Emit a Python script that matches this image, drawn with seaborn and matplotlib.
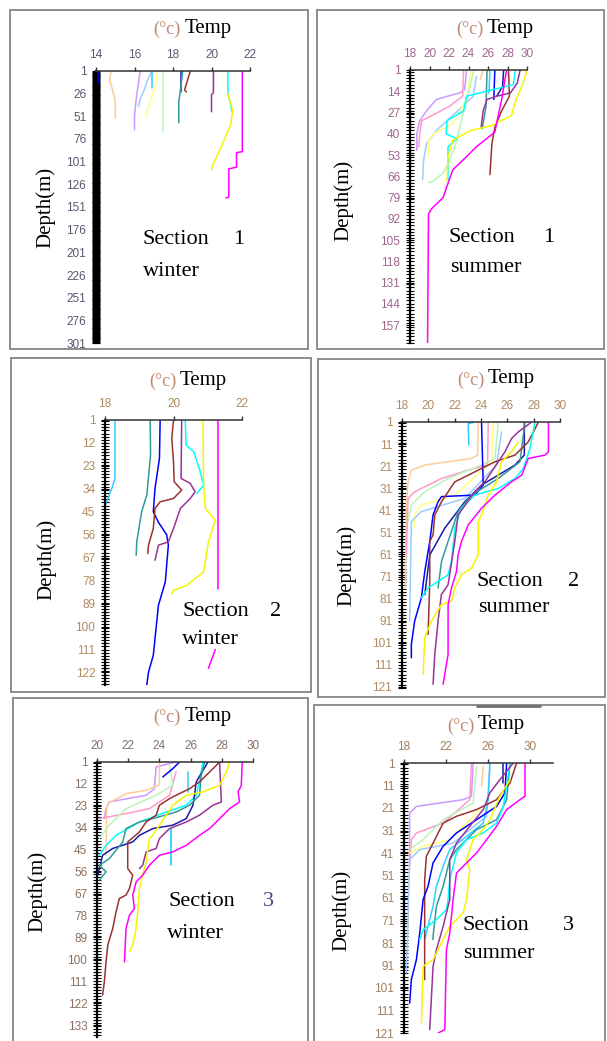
import matplotlib
matplotlib.use("Agg")
import matplotlib.pyplot as plt
from matplotlib.patches import Rectangle
from matplotlib.lines import Line2D
from matplotlib.ticker import MultipleLocator
import pandas as pd
import seaborn as sns

# station colours (excel style palette)
station_colors = {
    "S01": "#0000ff", "S02": "#ffcc99", "S03": "#cc99ff", "S04": "#99ccff",
    "S05": "#33ccff", "S06": "#ffff80", "S07": "#b9f5b9", "S08": "#1a1aa6",
    "S09": "#339999", "S10": "#993333", "S11": "#993399", "S12": "#00ffff",
    "S13": "#f5f500", "S14": "#ff00ff", "S15": "#ff99cc", "S16": "#ff00ff",
    "S17": "#00ccff",
}

# ---------------- Section 1 winter ----------------
s1w_xticks = [14, 16, 18, 20, 22]
s1w_yticks = [1, 26, 51, 76, 101, 126, 151, 176, 201, 226, 251, 276, 301]
s1w_temp = {
    "S01": [14.1, 14.1],
    "S02": [14.8, 14.7, 14.9, 15.0, 15.0],
    "S03": [16.3, 16.2, 16.1, 16.0, 16.0],
    "S04": [16.9, 16.7, 16.5, 16.3, 16.2],
    "S05": [16.9, 16.9],
    "S06": [17.2, 17.1, 16.9, 16.7, 16.6],
    "S07": [17.5, 17.5],
    "S08": [18.4, 18.4],
    "S09": [18.5, 18.4, 18.3, 18.3],
    "S10": [18.9, 18.8, 18.7, 18.6, 18.7],
    "S11": [20.1, 20.1, 20.0, 20.0],
    "S12": [20.85, 20.85, 21.0, 21.05],
    "S13": [20.85, 21.1, 21.0, 20.7, 20.4, 20.1, 20.0],
    "S14": [21.6, 21.6, 21.3, 21.3, 20.9, 20.9, 20.75],
}
s1w_depth = {
    "S01": [1, 14],
    "S02": [1, 10, 25, 35, 53],
    "S03": [1, 15, 30, 50, 66],
    "S04": [1, 10, 22, 32, 40],
    "S05": [1, 20],
    "S06": [1, 15, 30, 42, 51],
    "S07": [1, 68],
    "S08": [1, 24],
    "S09": [1, 20, 35, 58],
    "S10": [1, 8, 15, 22, 24],
    "S11": [1, 25, 27, 46],
    "S12": [1, 26, 38, 45],
    "S13": [26, 44, 60, 75, 90, 103, 110],
    "S14": [1, 90, 91, 107, 109, 140, 141],
}

# ---------------- Section 1 summer ----------------
s1s_xticks = [18, 20, 22, 24, 26, 28, 30]
s1s_yticks = [1, 14, 27, 40, 53, 66, 79, 92, 105, 118, 131, 144, 157]
s1s_temp = {
    "S02": [25.5, 25.2],
    "S03": [23.8, 23.6, 23.1, 20.7, 19.7, 19.0, 18.7, 18.7],
    "S15": [23.5, 23.4, 22.1, 20.2, 19.2, 19.0, 18.9],
    "S04": [24.8, 24.5, 23.8, 20.7, 19.7, 19.4, 19.3],
    "S06": [24.2, 23.8, 22.4, 20.4, 19.9, 19.9],
    "S07": [24.5, 24.0, 23.5, 22.8, 22.1, 21.4, 20.4, 19.9],
    "S05": [26.2, 26.1],
    "S09": [25.9, 25.8, 25.4],
    "S01": [26.7, 26.6],
    "S08": [27.6, 27.5, 26.9],
    "S11": [29.3, 29.0, 28.3, 26.9, 25.9, 25.5, 25.3],
    "S10": [28.1, 28.2, 27.4, 26.7, 26.4, 26.2],
    "S12": [28.8, 28.6, 26.5, 23.8, 23.5, 21.8, 21.7, 22.8, 21.9, 21.9],
    "S13": [30.0, 29.6, 28.9, 28.4, 26.4, 24.2, 22.4, 21.9, 21.8],
    "S14": [27.9, 27.4, 26.7, 24.8, 23.8, 22.4, 21.8, 21.4, 20.2, 19.9, 19.8],
}
s1s_depth = {
    "S02": [1, 7],
    "S03": [1, 13, 15, 19, 26, 32, 40, 50],
    "S15": [1, 17, 23, 29, 32, 40, 48],
    "S04": [5, 17, 21, 38, 46, 56, 68],
    "S06": [3, 19, 34, 40, 44, 53],
    "S07": [2, 15, 26, 44, 56, 64, 69, 70],
    "S05": [1, 15],
    "S09": [1, 23, 37],
    "S01": [1, 19],
    "S08": [1, 11, 17],
    "S11": [1, 9, 15, 17, 19, 26, 36],
    "S10": [1, 17, 26, 36, 46, 65],
    "S12": [1, 10, 13, 17, 26, 32, 40, 43, 48, 68],
    "S13": [1, 9, 19, 29, 35, 38, 44, 54, 69],
    "S14": [1, 19, 39, 48, 54, 62, 72, 79, 86, 89, 168],
}

# ---------------- Section 2 winter ----------------
s2w_xticks = [18, 20, 22]
s2w_yticks = [1, 12, 23, 34, 45, 56, 67, 78, 89, 100, 111, 122]
s2w_temp = {
    "S05": [18.29, 18.29, 18.2, 18.05, 17.97],
    "S09": [19.32, 19.33, 19.22, 19.07, 18.93, 18.91],
    "S01": [19.61, 19.59, 19.46, 19.41, 19.56, 19.8, 19.85, 19.76, 19.56, 19.41, 19.27, 19.22],
    "S10": [20.0, 19.95, 20.0, 20.02, 20.24, 20.0, 19.61, 19.46, 19.41, 19.27, 19.25],
    "S11": [20.24, 20.22, 20.49, 20.63, 20.49, 20.2, 20.0, 19.85, 19.56, 19.46],
    "S12": [20.34, 20.37, 20.59, 20.78, 20.88, 20.68],
    "S13": [20.86, 20.88, 20.93, 21.22, 21.02, 20.88, 20.39, 20.0, 19.95],
    "S14": [21.3, 21.3],
    "S16": [21.22, 21.02],
}
s2w_depth = {
    "S05": [1, 29, 33.8, 40, 43.4],
    "S09": [1, 17.8, 37, 45, 59, 65.8],
    "S01": [1, 19.4, 33.8, 45, 50, 56, 61, 78.6, 89.8, 113.8, 121.8, 128],
    "S10": [1, 9.8, 21, 30.6, 34.6, 38.6, 40.2, 43.4, 53, 61, 65],
    "S11": [1, 29, 31.4, 35.4, 38.6, 43.4, 53, 59.4, 61, 68.2],
    "S12": [1, 13, 16.2, 25.8, 32.2, 36.2],
    "S13": [1, 32.2, 43.4, 49, 59.4, 73.8, 80.2, 82.6, 84.2],
    "S14": [1, 81.8],
    "S16": [111, 120],
}

# ---------------- Section 2 summer ----------------
s2s_xticks = [18, 20, 22, 24, 26, 28, 30]
s2s_yticks = [1, 11, 21, 31, 41, 51, 61, 71, 81, 91, 101, 111, 121]
s2s_temp = {
    "S02": [23.79, 23.74, 23.28, 19.73, 18.71, 18.46, 18.33, 18.25],
    "S15": [24.55, 24.5, 23.03, 21.0, 18.96, 18.46, 18.33],
    "S07": [25.31, 25.06, 24.04, 21.5, 19.73, 18.71, 18.46],
    "S06": [24.93, 24.8, 22.01, 19.47, 18.96, 18.91],
    "S04": [25.56, 25.18, 22.77, 19.47, 18.71, 18.58],
    "S05": [23.53, 23.03, 23.08],
    "S01": [24.04, 24.17, 23.53, 21.0, 20.74, 20.36, 20.11, 19.73, 19.47, 18.96, 18.71, 18.71],
    "S08": [27.29, 27.29, 26.58, 24.04, 22.77, 21.25, 20.11, 19.73],
    "S09": [27.34, 26.96, 25.31, 23.28, 22.26, 21.5, 21.0, 20.74],
    "S10": [28.36, 27.59, 26.58, 25.06, 23.53, 22.01, 21.0, 20.49, 20.36, 20.11, 20.11, 19.98],
    "S12": [28.1, 27.72, 27.21, 26.58, 25.31, 23.53, 22.52, 22.01, 21.76, 21.5, 19.98, 19.47],
    "S11": [27.85, 26.83, 26.32, 25.82, 24.29, 23.53, 22.26, 22.01, 21.5, 20.99, 20.74, 20.49, 20.36],
    "S13": [26.83, 26.32, 25.56, 25.18, 24.55, 24.04, 23.79, 23.79, 23.28, 22.52, 22.01, 21.76, 21.0, 20.23, 19.73, 19.6],
    "S14": [29.12, 29.12, 28.86, 27.59, 27.09, 26.32, 25.06, 24.04, 23.03, 22.52, 22.26, 22.14, 21.76, 21.5, 21.5, 21.12],
}
s2s_depth = {
    "S02": [1, 16, 17.5, 20.5, 22.8, 28.1, 38.6, 76.2],
    "S15": [1, 20.5, 22.8, 26.6, 32.6, 35.6, 61.2],
    "S07": [1, 17.5, 20.5, 26.6, 32.6, 38.6, 46.1],
    "S06": [1, 19, 34.1, 38.6, 43.1, 49.1],
    "S04": [5.5, 20.5, 35.6, 41.6, 46.1, 91.2],
    "S05": [1, 1.8, 11.5],
    "S01": [1, 29.6, 34.1, 34.8, 37.1, 43.1, 55.1, 68.7, 80.7, 91.2, 101.8, 107.8],
    "S08": [1, 16, 20.5, 29.6, 37.1, 49.1, 61.2, 79.2],
    "S09": [1, 19, 26.6, 34.1, 41.6, 55.1, 64.2, 76.2],
    "S10": [1, 10, 16, 19, 23.6, 28.1, 37.1, 43.1, 52.1, 55.1, 73.2, 97.2],
    "S12": [1, 13, 22.1, 26.6, 31.1, 34.1, 40.1, 49.1, 64.2, 70.2, 76.2, 80.7],
    "S11": [1, 5.5, 8.5, 14.5, 28.1, 32.6, 43.1, 55.1, 74.7, 79.2, 91.2, 106.3, 119.8],
    "S13": [10, 14.5, 19, 28.1, 34.1, 43.1, 46.1, 61.2, 67.2, 70.2, 76.2, 82.2, 83.7, 91.2, 98.7, 115.3],
    "S14": [1, 14.5, 16, 17.5, 25.1, 28.1, 34.1, 40.1, 47.6, 55.1, 61.2, 68.7, 76.2, 83.7, 106.3, 119.8],
}

# ---------------- Section 3 winter ----------------
s3w_xticks = [20, 22, 24, 26, 28, 30]
s3w_yticks = [1, 12, 23, 34, 45, 56, 67, 78, 89, 100, 111, 122, 133]
s3w_temp = {
    "S03": [25.07, 23.79, 23.68, 23.15, 20.79, 20.58, 20.47],
    "S02": [24.0, 24.0, 23.15, 21.86, 20.79, 20.62, 20.58],
    "S15": [25.07, 24.65, 23.36, 21.86, 20.15],
    "S07": [24.65, 24.86, 23.79, 21.86, 20.79, 20.15],
    "S01": [25.29, 24.86, 24.22],
    "S05": [25.82, 25.82],
    "S17": [24.75, 24.75],
    "S12": [26.79, 26.57, 26.36, 25.72, 24.43, 22.72, 21.22, 20.58, 20.15],
    "S08": [27.11, 26.36, 26.25, 26.15, 25.72, 24.86, 23.58, 22.72, 22.29, 21.01, 20.36, 20.15, 20.04],
    "S09": [26.9, 26.68, 26.57, 25.93, 25.07, 23.58, 22.72, 21.86, 21.65, 20.79, 20.15, 20.58, 20.15],
    "S10": [27.86, 27.22, 26.57, 25.93, 25.07, 24.65, 24.0, 23.79, 23.15, 22.72, 21.97, 21.97,
            22.29, 22.08, 21.86, 21.43, 21.22, 21.01, 20.69, 20.58, 20.47, 20.36],
    "S11": [27.86, 27.97, 27.43, 26.57, 25.72, 24.65, 24.0, 23.79, 23.15, 22.93, 22.72],
    "S13": [28.5, 28.29, 27.86, 26.79, 25.72, 24.86, 24.43, 23.58, 23.36, 23.15, 22.93, 22.72,
            22.61, 22.51, 22.29, 22.08],
    "S14": [29.31, 29.25, 29.04, 29.14, 28.5, 27.86, 27.22, 26.57, 25.72, 24.86, 24.0, 23.36,
            22.93, 22.51, 22.29, 22.4, 22.08, 21.86, 21.76],
}
s3w_depth = {
    "S03": [1, 3.5, 14.4, 17.7, 21.0, 24.4, 29.4],
    "S02": [1, 12.4, 15.2, 16.9, 21.4, 23.6, 47.8],
    "S15": [6, 17.7, 24.4, 26.9, 29.4],
    "S07": [2.7, 12.7, 17.7, 24.4, 32.7, 39.4],
    "S01": [1, 4.3, 8.5],
    "S05": [6, 16],
    "S17": [34.4, 52.8],
    "S12": [1, 11, 17.7, 22.7, 26.1, 31.1, 37.8, 42.8, 47.8],
    "S08": [1, 11, 17.7, 22.7, 29.4, 32.7, 34.4, 37.8, 41.1, 44.4, 47.8, 54.5, 57.8],
    "S09": [1, 7.7, 17.7, 22.7, 26.1, 29.4, 31.1, 34.4, 41.1, 49.5, 52.8, 56.1, 60.3],
    "S10": [1, 6, 11, 14.4, 17.7, 19.4, 22.7, 27.7, 31.1, 36.1, 41.1, 54.5,
            57.8, 64.5, 67.8, 69.5, 76.2, 84.5, 92.9, 101.3, 111.3, 118],
    "S11": [1, 21, 22.7, 27.7, 31.1, 34.4, 39.4, 44.4, 46.1, 52.8, 54.5],
    "S13": [1, 6, 12.7, 16, 17.7, 22.7, 27.7, 37.8, 39.4, 51.1, 57.8, 64.5,
            76.2, 84.5, 92.9, 96.2],
    "S14": [1, 12.7, 16, 21, 24.4, 29.4, 34.4, 37.8, 42.8, 46.1, 47.8, 52.8,
            57.8, 61.2, 67.8, 74.5, 77.9, 84.5, 101.3],
}

# ---------------- Section 3 summer ----------------
s3s_xticks = [18, 22, 26, 30]
s3s_yticks = [1, 11, 21, 31, 41, 51, 61, 71, 81, 91, 101, 111, 121]
s3s_temp = {
    "S03": [24.59, 24.43, 23.64, 19.18, 18.54, 18.54],
    "S15": [24.43, 24.27, 21.73, 19.18, 18.7, 18.54],
    "S07": [24.91, 24.59, 21.73, 19.82, 18.54],
    "S06": [25.23, 22.36, 19.82, 18.54],
    "S04": [26.18, 25.87, 22.68, 19.5, 18.54, 18.22],
    "S02": [25.55, 25.39],
    "S08": [27.46, 27.46],
    "S05": [26.18, 26.03, 25.55, 23.96, 22.36, 21.73, 21.09, 20.77, 20.13, 19.97],
    "S09": [28.1, 27.78, 26.82, 24.91, 23.0, 22.36, 21.73, 21.09, 20.77, 20.77],
    "S10": [28.73, 28.1, 26.82, 24.91, 23.0, 21.73, 20.77, 20.13, 19.97, 19.97, 19.97],
    "S01": [27.78, 27.62, 26.82, 24.91, 23.0, 21.73, 20.77, 20.29, 19.82, 19.5, 19.18, 18.7, 18.54],
    "S12": [28.1, 27.78, 27.46, 26.82, 25.55, 23.96, 23.0, 22.36, 22.2, 22.04, 21.09, 19.82, 19.5],
    "S11": [28.41, 27.14, 26.18, 25.55, 24.27, 23.0, 22.36, 22.36, 21.73, 21.09, 20.77, 20.45],
    "S13": [28.1, 27.14, 26.18, 25.55, 24.59, 23.96, 24.27, 23.96, 23.64, 22.36, 21.73, 20.77, 19.82, 19.66],
    "S14": [29.53, 29.53, 29.05, 27.78, 26.82, 25.87, 24.91, 23.96, 23.0, 22.68, 22.36, 22.04, 21.89, 21.25],
}
s3s_depth = {
    "S03": [1, 15.8, 17.3, 20.3, 23.2, 45.4],
    "S15": [1, 17.3, 27.7, 32.1, 35.1, 46.9],
    "S07": [2.5, 18.8, 26.2, 35.1, 39.5],
    "S06": [21.7, 35.1, 38.0, 41.0],
    "S04": [2.5, 24.7, 36.6, 39.5, 44.0, 94.3],
    "S02": [2.5, 11.4],
    "S08": [1, 9.9],
    "S05": [1, 17.3, 27.7, 33.6, 39.5, 46.9, 55.8, 64.7, 76.6, 79.5],
    "S09": [1, 17.3, 26.2, 30.6, 39.5, 44.0, 55.8, 64.7, 78.0, 79.5],
    "S10": [1, 9.9, 17.3, 21.7, 24.7, 27.7, 36.6, 42.5, 52.9, 76.6, 97.3],
    "S01": [1, 14.3, 20.3, 26.2, 32.1, 38.0, 45.4, 55.8, 61.7, 76.6, 88.4, 97.3, 107.7],
    "S12": [1, 11.4, 20.3, 27.7, 32.1, 35.1, 41.0, 52.9, 61.7, 66.2, 70.6, 75.1, 79.5],
    "S11": [1, 8.4, 14.3, 21.7, 29.1, 36.6, 44.0, 61.7, 73.6, 84.0, 91.4, 119.5],
    "S13": [8.4, 15.8, 26.2, 30.6, 35.1, 44.0, 48.4, 61.7, 67.7, 73.6, 79.5, 88.4, 91.4, 116.6],
    "S14": [1, 15.8, 17.3, 21.7, 29.1, 35.1, 41.0, 45.4, 49.9, 61.7, 76.6, 84.0, 119.5, 121],
}

W, H = 607, 1041
sns.set_theme(style="white")
plt.rcParams["font.family"] = ["Liberation Sans", "DejaVu Sans"]
SERIF = ["Liberation Serif", "DejaVu Serif"]

fig = plt.figure(figsize=(W / 100, H / 100), dpi=100)
fig.patch.set_facecolor("white")


def fx(x):
    return x / W


def fy(y):
    return 1 - y / H


def to_frame(temp, depth):
    rows = []
    for st in temp:
        for t, d in zip(temp[st], depth[st]):
            rows.append((st, t, d))
    return pd.DataFrame(rows, columns=["station", "temp", "depth"])


# layout of each panel in pixels (top-left origin)
panels = [
    dict(temp=s1w_temp, depth=s1w_depth, xt=s1w_xticks, yt=s1w_yticks,
         box=(96, 71, 250, 343), xlim=(14, 22), ylim=(301, 1), minor=1,
         frame=(10, 10, 308, 349), lab="#5d5470",
         temp_x=185, temp_y=28, dep=(46, 207),
         sec=(143, 240), num=(233, "1"), season=(143, 271, "winter")),
    dict(temp=s1s_temp, depth=s1s_depth, xt=s1s_xticks, yt=s1s_yticks,
         box=(410, 70, 527, 343), xlim=(18, 30), ylim=(168, 1), minor=2,
         frame=(317, 10, 604, 349), lab="#a0668c",
         temp_x=487, temp_y=28, dep=(344, 200),
         sec=(448, 238), num=(543, "1"), season=(450, 267, "summer")),
    dict(temp=s2w_temp, depth=s2w_depth, xt=s2w_xticks, yt=s2w_yticks,
         box=(105, 420, 242, 685), xlim=(18, 22), ylim=(128, 1), minor=1.5,
         frame=(11, 358, 311, 692), lab="#b08a60",
         temp_x=180, temp_y=380, dep=(47, 559),
         sec=(182, 611), num=(270, "2"), season=(182, 640, "winter")),
    dict(temp=s2s_temp, depth=s2s_depth, xt=s2s_xticks, yt=s2s_yticks,
         box=(402, 422, 560, 688), xlim=(18, 30), ylim=(121.5, 1), minor=1.5,
         frame=(318, 359, 605, 697), lab="#b08a60",
         temp_x=488, temp_y=379, dep=(347, 565),
         sec=(477, 581), num=(568, "2"), season=(478, 607, "summer")),
    dict(temp=s3w_temp, depth=s3w_depth, xt=s3w_xticks, yt=s3w_yticks,
         box=(97, 762, 253, 1037), xlim=(20, 30), ylim=(139, 1), minor=1.5,
         frame=(13, 698, 308, 1046), lab="#8a7060",
         temp_x=185, temp_y=716, dep=(38, 891),
         sec=(168, 902), num=(263, "3"), season=(167, 933, "winter")),
    dict(temp=s3s_temp, depth=s3s_depth, xt=s3s_xticks, yt=s3s_yticks,
         box=(404, 763, 553, 1033), xlim=(18, 32.2), ylim=(121, 1), minor=1.5,
         frame=(314, 705, 605, 1046), lab="#a08060",
         temp_x=478, temp_y=725, dep=(342, 910),
         sec=(463, 926), num=(563, "3"), season=(463, 953, "summer")),
]

for p in panels:
    # grey frame round the panel
    x0, y0, x1, y1 = p["frame"]
    fig.add_artist(Rectangle((fx(x0), fy(y1)), (x1 - x0) / W, (y1 - y0) / H,
                             transform=fig.transFigure, fill=False,
                             ec="#858585", lw=1.3))

    bx0, by0, bx1, by1 = p["box"]
    ax = fig.add_axes([fx(bx0), fy(by1), (bx1 - bx0) / W, (by1 - by0) / H])
    ax.patch.set_alpha(0)
    df = to_frame(p["temp"], p["depth"])
    sns.lineplot(data=df, x="temp", y="depth", hue="station",
                 palette=station_colors, sort=False, estimator=None,
                 legend=False, lw=1.1, ax=ax)
    ax.set_xlim(*p["xlim"])
    ax.set_ylim(*p["ylim"])
    ax.xaxis.tick_top()
    ax.set_xticks(p["xt"])
    ax.set_yticks(p["yt"])
    ax.yaxis.set_minor_locator(MultipleLocator(p["minor"]))
    ax.set_xlabel("")
    ax.set_ylabel("")
    ax.grid(False)
    for s in ["right", "bottom"]:
        ax.spines[s].set_visible(False)
    ax.spines["top"].set_color("#333333")
    ax.spines["top"].set_linewidth(1.1)
    ax.spines["left"].set_color("black")
    ax.spines["left"].set_linewidth(1.6)
    ax.tick_params(axis="x", which="major", top=True, bottom=False,
                   direction="out", length=3, width=1, color="#333333",
                   labelcolor=p["lab"], labelsize=8.5, pad=4)
    ax.tick_params(axis="y", which="both", left=True, direction="inout",
                   length=6, width=0.8, color="black",
                   labelcolor=p["lab"], labelsize=8.5, pad=4)

    # title "(°c) Temp"
    fig.text(fx(p["temp_x"] - 4), fy(p["temp_y"] + 1), "(°c)", ha="right",
             va="center", fontsize=13, color="#c08a70", family=SERIF)
    fig.text(fx(p["temp_x"]), fy(p["temp_y"]), "Temp", ha="left",
             va="center", fontsize=15, color="black", family=SERIF)

    # depth label
    fig.text(fx(p["dep"][0]), fy(p["dep"][1]), "Depth(m)", rotation=90,
             ha="center", va="center", fontsize=15, color="black",
             family=SERIF)

    # section / season labels
    fig.text(fx(p["sec"][0]), fy(p["sec"][1]), "Section", ha="left",
             va="center", fontsize=16, color="black", family=SERIF)
    num_col = "#5a3f7a" if p["num"][1] == "3" and p["season"][2] == "winter" else "black"
    fig.text(fx(p["num"][0]), fy(p["sec"][1]), p["num"][1], ha="left",
             va="center", fontsize=16, color=num_col, family=SERIF)
    fig.text(fx(p["season"][0]), fy(p["season"][1]), p["season"][2],
             ha="left", va="center", fontsize=16, color="black",
             family=SERIF)

# darker grey stroke on top edge of the last frame
fig.add_artist(Line2D([fx(477), fx(540)], [fy(706), fy(706)],
                      transform=fig.transFigure, color="#707070", lw=2))

fig.savefig("out.png", dpi=100, facecolor="white")
